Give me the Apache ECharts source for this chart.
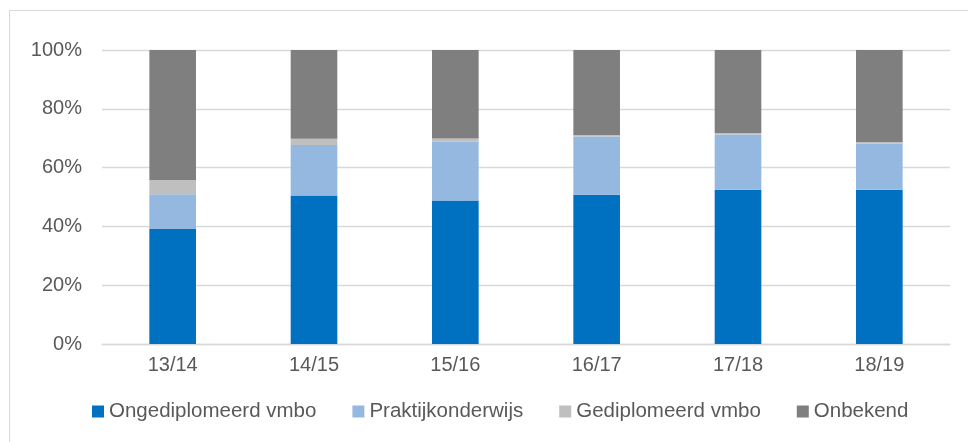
<!DOCTYPE html>
<html>
<head>
<meta charset="utf-8">
<script src="https://cdn.jsdelivr.net/npm/echarts@6/dist/echarts.min.js"></script>
<style>
  html, body { margin: 0; padding: 0; background: #fff; }
  #main { width: 968px; height: 442px; }
</style>
</head>
<body>
<div id="main"></div>
<script>
// schooljaren
var years = ['13/14', '14/15', '15/16', '16/17', '17/18', '18/19'];
var ongediplomeerd = [39.1, 50.5, 48.8, 50.8, 52.5, 52.5];
var praktijk = [11.8, 17.2, 20.1, 19.8, 18.8, 15.7];
var gediplomeerd = [4.9, 2.1, 1.0, 0.5, 0.5, 0.5];
var onbekend = [44.2, 30.2, 30.1, 28.9, 28.2, 31.3];
var yTicks = [0, 20, 40, 60, 80, 100];

var chartDom = document.getElementById('main');
var myChart = echarts.init(chartDom);
var textColor = '#595959';
var font = "'Liberation Sans', Arial, sans-serif";

function barSeries(name, data, color) {
  return {
    name: name,
    type: 'bar',
    stack: 'total',
    barWidth: '33%',
    itemStyle: { color: color },
    data: data
  };
}

var option = {
  animation: false,
  textStyle: { fontFamily: font },
  graphic: [
    {
      type: 'rect',
      shape: { x: 9.5, y: 10.5, width: 1000, height: 500 },
      style: { fill: 'none', stroke: '#d9d9d9', lineWidth: 1 },
      silent: true
    }
  ],
  grid: {
    left: 102,
    right: 18,
    top: 50,
    bottom: 98
  },
  legend: {
    left: 92,
    top: 401,
    padding: 0,
    itemWidth: 12,
    itemHeight: 12,
    itemGap: 36,
    icon: 'rect',
    textStyle: { color: textColor, fontSize: 20.5, fontFamily: font },
    data: ['Ongediplomeerd vmbo', 'Praktijkonderwijs', 'Gediplomeerd vmbo', 'Onbekend']
  },
  xAxis: {
    type: 'category',
    data: years,
    axisLine: { lineStyle: { color: '#d9d9d9', width: 1.3 } },
    axisTick: { show: false },
    axisLabel: { color: textColor, fontSize: 20, margin: 11, fontFamily: font }
  },
  yAxis: {
    type: 'value',
    min: yTicks[0],
    max: yTicks[yTicks.length - 1],
    interval: 20,
    axisLine: { show: false },
    axisTick: { show: false },
    axisLabel: { color: textColor, fontSize: 20, margin: 20, formatter: '{value}%', fontFamily: font },
    splitLine: { lineStyle: { color: '#d9d9d9', width: 1.3 } }
  },
  series: [
    barSeries('Ongediplomeerd vmbo', ongediplomeerd, '#0070c0'),
    barSeries('Praktijkonderwijs', praktijk, '#95b8e1'),
    barSeries('Gediplomeerd vmbo', gediplomeerd, '#bfbfbf'),
    barSeries('Onbekend', onbekend, '#7f7f7f')
  ]
};

option && myChart.setOption(option);
</script>
</body>
</html>
